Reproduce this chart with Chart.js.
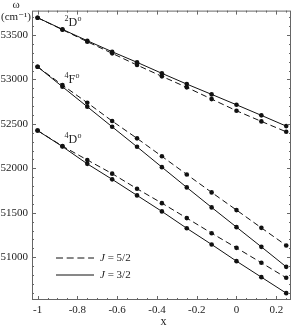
<!DOCTYPE html>
<html lang="en">
<head>
  <meta charset="UTF-8" />
  <title>Term energies vs x</title>
  <script src="https://cdn.jsdelivr.net/npm/chart.js"></script>
  <style>
    body { margin: 0; background: #fff; }
    .wrap { width: 295px; height: 330px; }
  </style>
</head>
<body>
  <div class="wrap"><canvas id="chart"></canvas></div>

  <script>
    // composition x
    const xValues = [-1, -0.875, -0.75, -0.625, -0.5, -0.375, -0.25, -0.125, 0, 0.125, 0.25];

    // 2D° term (cm-1)
    const d2J52 = [53695, 53560, 53425, 53294, 53162, 53035, 52911, 52779, 52648, 52528, 52411];
    const d2J32 = [53695, 53564, 53436, 53312, 53193, 53069, 52948, 52832, 52715, 52596, 52475];
    // 4F° term
    const f4J52 = [53143, 52937, 52738, 52532, 52337, 52135, 51931, 51729, 51530, 51330, 51132];
    const f4J32 = [53143, 52918, 52693, 52467, 52242, 52013, 51785, 51560, 51338, 51116, 50891];
    // 4D° term
    const d4J52 = [52425, 52250, 52094, 51940, 51770, 51608, 51440, 51270, 51105, 50937, 50768];
    const d4J32 = [52425, 52245, 52050, 51876, 51695, 51515, 51325, 51143, 50955, 50775, 50595];

    const xTicks = [-1, -0.8, -0.6, -0.4, -0.2, 0, 0.2];
    const yTicks = [51000, 51500, 52000, 52500, 53000, 53500];

    // term labels placed at (x, omega)
    const termLabels = [
      { sup: "2", main: "D", x: -0.82, y: 53635 },
      { sup: "4", main: "F", x: -0.82, y: 52993 },
      { sup: "4", main: "D", x: -0.82, y: 52318 }
    ];

    const serif = "'Liberation Serif', 'DejaVu Serif', serif";

    const pts = arr => arr.map((v, i) => ({ x: xValues[i], y: v }));

    function series(data, dashed) {
      return {
        data: pts(data),
        showLine: true,
        borderColor: '#111',
        backgroundColor: '#111',
        borderWidth: 1,
        borderDash: dashed ? [6, 3.5] : [],
        pointRadius: 2.3,
        pointBorderWidth: 0,
        tension: 0
      };
    }

    // frame, inward ticks, labels, legend
    const framePlugin = {
      id: 'frame',
      afterDraw(chart) {
        const ctx = chart.ctx;
        const a = chart.chartArea;
        const xs = chart.scales.x, ys = chart.scales.y;
        ctx.save();
        ctx.strokeStyle = '#666';
        ctx.lineWidth = 1;
        ctx.strokeRect(a.left + 0.5, a.top + 0.5, a.right - a.left - 1, a.bottom - a.top - 1);

        ctx.beginPath();
        for (let i = 0; i <= 26; i++) {
          const v = -1 + i * 0.05;
          const px = Math.round(xs.getPixelForValue(v)) + 0.5;
          if (px < a.left || px > a.right) continue;
          const len = (i % 4 === 0) ? 4 : 2;
          ctx.moveTo(px, a.bottom); ctx.lineTo(px, a.bottom - len);
          ctx.moveTo(px, a.top); ctx.lineTo(px, a.top + len);
        }
        for (let v = 50600; v <= 53700; v += 100) {
          const py = Math.round(ys.getPixelForValue(v)) + 0.5;
          const len = (v % 500 === 0) ? 4 : 2;
          ctx.moveTo(a.left, py); ctx.lineTo(a.left + len, py);
          ctx.moveTo(a.right, py); ctx.lineTo(a.right - len, py);
        }
        ctx.stroke();

        // axis titles
        ctx.fillStyle = '#222';
        ctx.textAlign = 'center';
        ctx.textBaseline = 'middle';
        ctx.font = '11px ' + serif;
        ctx.fillText('\u03c9', 16, 5);
        ctx.fillText('(cm\u207b\u00b9)', 16, 17);
        ctx.font = '12px ' + serif;
        ctx.fillText('x', (a.left + a.right) / 2 + 2, 322);

        // term labels
        ctx.textAlign = 'left';
        termLabels.forEach(t => {
          const px = xs.getPixelForValue(t.x);
          const py = ys.getPixelForValue(t.y);
          ctx.font = '8px ' + serif;
          ctx.fillText(t.sup, px - 9, py - 4);
          ctx.font = '12px ' + serif;
          ctx.fillText(t.main, px - 5, py);
          const mw = ctx.measureText(t.main).width;
          ctx.font = '8px ' + serif;
          ctx.fillText('o', px - 5 + mw + 0.5, py - 4);
        });

        // legend
        const lx = a.left + 24, ly1 = 258, ly2 = 275;
        ctx.strokeStyle = '#111';
        ctx.lineWidth = 1;
        ctx.setLineDash([7, 3.7]);
        ctx.beginPath(); ctx.moveTo(lx, ly1); ctx.lineTo(lx + 38, ly1); ctx.stroke();
        ctx.setLineDash([]);
        ctx.beginPath(); ctx.moveTo(lx, ly2); ctx.lineTo(lx + 38, ly2); ctx.stroke();
        [['5/2', ly1], ['3/2', ly2]].forEach(([j, y]) => {
          ctx.font = 'italic 11px ' + serif;
          ctx.fillText('J', lx + 44, y);
          const jw = ctx.measureText('J').width;
          ctx.font = '11px ' + serif;
          ctx.fillText(' = ' + j, lx + 44 + jw, y);
        });
        ctx.restore();
      }
    };

    new Chart(document.getElementById('chart'), {
      type: 'scatter',
      data: {
        datasets: [
          series(d2J52, true), series(d2J32, false),
          series(f4J52, true), series(f4J32, false),
          series(d4J52, true), series(d4J32, false)
        ]
      },
      options: {
        responsive: true,
        maintainAspectRatio: false,
        animation: false,
        layout: { padding: { left: 0, top: 10, right: 2, bottom: 0 } },
        plugins: { legend: { display: false }, tooltip: { enabled: false } },
        scales: {
          x: {
            type: 'linear',
            min: -1.028,
            max: 0.274,
            grid: { display: false, drawTicks: false },
            border: { display: false },
            afterBuildTicks: s => { s.ticks = xTicks.map(v => ({ value: v })); },
            afterFit: s => { s.height = 30; },
            ticks: {
              padding: 4,
              color: '#222',
              font: { family: serif, size: 11 },
              maxRotation: 0,
              callback: v => String(v)
            }
          },
          y: {
            type: 'linear',
            min: 50518,
            max: 53775,
            grid: { display: false, drawTicks: false },
            border: { display: false },
            afterBuildTicks: s => { s.ticks = yTicks.map(v => ({ value: v })); },
            afterFit: s => { s.width = 32; },
            ticks: {
              padding: 4,
              color: '#222',
              font: { family: serif, size: 11 },
              callback: v => String(v)
            }
          }
        }
      },
      plugins: [framePlugin]
    });
  </script>
</body>
</html>
